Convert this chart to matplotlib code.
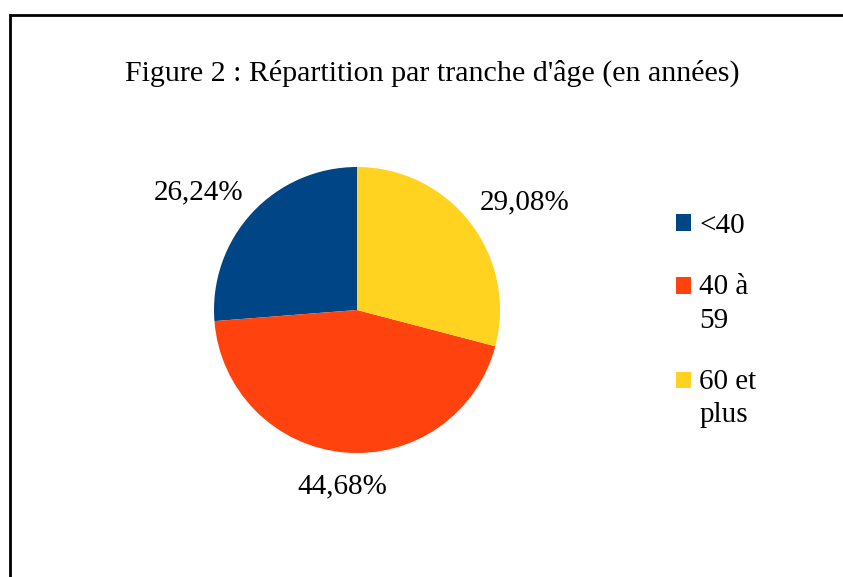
import matplotlib.pyplot as plt
import numpy as np
from matplotlib.patches import Rectangle, Patch
from matplotlib.legend_handler import HandlerPatch

categories = ["<40", "40 à\n59", "60 et\nplus"]
shares = [26.24, 44.68, 29.08]
colors = ["#004586", "#ff420e", "#ffd320"]
title = "Figure 2 : Répartition par tranche d'âge (en années)"

plt.rcParams["font.family"] = ["Liberation Serif", "DejaVu Serif"]

W, H = 843, 577
FS = 21
LSP = 1.38
fig = plt.figure(figsize=(W / 100, H / 100), dpi=100)

# frame around the whole chart (runs off the right and bottom edges)
fig.patches.append(Rectangle((10 / W, -0.1), 1.2, (H - 15) / H + 0.1,
                             transform=fig.transFigure, fill=False,
                             lw=2, edgecolor="black"))

fig.text(432 / W, 1 - 73 / H, title, ha="center", va="center", fontsize=21.6)

# pie axes: centre (357, 310) px, radius 143 px
cx, cy, r = 357, 310, 143
ax = fig.add_axes([(cx - r) / W, (H - cy - r) / H, 2 * r / W, 2 * r / H])

wedges, texts, pcts = ax.pie(
    shares, colors=colors, startangle=90, counterclock=True,
    autopct=lambda p: f"{p:.2f}%".replace(".", ","),
    wedgeprops=dict(linewidth=0),
    textprops=dict(fontsize=FS))
ax.set_xlim(-1, 1)
ax.set_ylim(-1, 1)
ax.set_aspect("equal")

# place percentage labels outside the pie, LibreOffice style
for w, t in zip(wedges, pcts):
    th = np.deg2rad((w.theta1 + w.theta2) / 2)
    c, s = np.cos(th), np.sin(th)
    d = 1.08 if abs(c) > 0.3 else 1.15
    t.set_position((d * c, d * s))
    t.set_ha("left" if c > 0.3 else "right" if c < -0.3 else "center")
    t.set_va("bottom" if s > 0.3 else "top" if s < -0.3 else "center")


# legend square aligned with the first line of a wrapped label
def first_line_square(legend, orig_handle, xdescent, ydescent,
                      width, height, fontsize):
    n = orig_handle.get_label().count("\n")
    shift = n * 0.5 * LSP * fontsize * 0.9
    return Rectangle((-xdescent, -ydescent + shift), width, height)


handles = [Patch(facecolor=col, edgecolor="none", label=lab)
           for col, lab in zip(colors, categories)]
leg = fig.legend(handles, categories, loc="upper left",
                 bbox_to_anchor=(676 / W, 1 - 213 / H), frameon=False,
                 borderpad=0, borderaxespad=0,
                 fontsize=FS, handlelength=0.5, handleheight=0.5,
                 handletextpad=0.3, labelspacing=1.2,
                 handler_map={Patch: HandlerPatch(patch_func=first_line_square)})
for t in leg.get_texts():
    t.set_linespacing(LSP)

fig.savefig("out.png", dpi=100)
